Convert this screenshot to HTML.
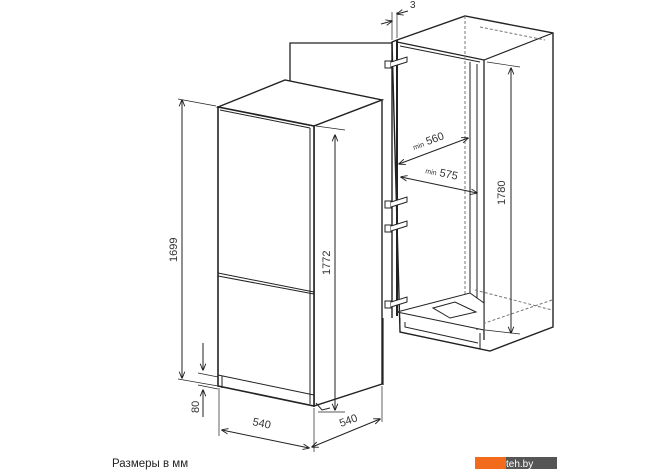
<!DOCTYPE html>
<html><head><meta charset="utf-8"><style>
html,body{margin:0;padding:0;background:#fff;width:670px;height:471px;overflow:hidden}
svg{display:block}
text{font-family:"Liberation Sans",sans-serif;fill:#333}
</style></head><body>
<svg width="670" height="471" viewBox="0 0 670 471" xmlns="http://www.w3.org/2000/svg">
<defs>
<marker id="a" viewBox="0 0 10 10" refX="9" refY="5" markerWidth="7" markerHeight="7" orient="auto-start-reverse"><path d="M0,1 L10,5 L0,9" fill="none" stroke="#222" stroke-width="1.3"/></marker>
</defs>
<g stroke="#222" fill="none" stroke-width="1">
<path d="M290,82 L290,43 L392,43" stroke-width="1.3"/>
<path d="M383,318 L383,385" stroke-width="1.2"/>
<path d="M392,42 L397,40 L465,16 L553,33 L553,327 L490,351 L400,332 Z" fill="#fff" stroke-width="1.4"/>
<path d="M397,40 L397,316" stroke-width="2"/>
<path d="M392,42 L392,318" stroke-width="1.4"/>
<path d="M397,42 L484,60 L553,33" stroke-width="1.2"/>
<path d="M400,46 L480,62" />
<path d="M484,60 L484,340" stroke-width="1.3"/>
<path d="M477,64 L477,330 M470,62 L470,300" />
<path d="M465,16 L465,300 M480,27 L545,40 M552,300 L485,323 M475,290 L552,310" stroke-dasharray="3,2" stroke="#777"/>
<path d="M397,312 L470,293 L484,303 L484,330 L397,312" fill="#fff"/>
<path d="M433,308 L455,302 L476,312 L450,318 Z" />
<path d="M400,318 L400,332 L480,349 L480,333" />
<path d="M405,322 L405,327 L478,343" />
<g fill="#fff">
<rect x="385" y="61" width="6" height="7"/><path d="M391,62 L407,57 L407,62 L391,67"/>
<rect x="385" y="201" width="6" height="7"/><path d="M391,202 L407,197 L407,202 L391,207"/>
<rect x="385" y="225" width="6" height="7"/><path d="M391,226 L407,221 L407,226 L391,231"/>
<rect x="385" y="301" width="6" height="7"/><path d="M391,302 L407,297 L407,302 L391,307"/>
</g>
<path d="M218,107 L285,80 L382,100 L314,126 Z" fill="#fff" stroke-width="1.4"/>
<path d="M314,126 L382,100 L382,384 L314,406 Z" fill="#fff" stroke-width="1.4"/>
<path d="M218,107 L314,126 L314,406 L218,386 Z" fill="#fff" stroke-width="1.6"/>
<path d="M310,128 L310,404" />
<path d="M220,110 L310,128" />
<path d="M218,273 L314,292 M218,276 L314,294" />
<path d="M218,375 L314,395" />
<path d="M222,376 L222,388 M316,403 L322,410 L330,408" />
<path d="M182,100 L182,378" marker-start="url(#a)" marker-end="url(#a)"/>
<path d="M178,99 L216,106 M178,379 L218,386" stroke-width="0.7"/>
<path d="M335,135 L335,410" marker-start="url(#a)" marker-end="url(#a)"/>
<path d="M316,126 L345,130 M318,412 L345,412" stroke-width="0.7"/>
<path d="M203,343 L203,370" marker-end="url(#a)"/>
<path d="M203,417 L203,390" marker-end="url(#a)"/>
<path d="M198,373 L218,377 M198,385 L218,389" stroke-width="0.7"/>
<path d="M219,388 L219,436 M314,408 L314,452 M382,386 L382,422" stroke-width="0.7"/>
<path d="M222,430 L309,448" marker-start="url(#a)" marker-end="url(#a)"/>
<path d="M312,447 L380,419" marker-start="url(#a)" marker-end="url(#a)"/>
<path d="M511,68 L511,333" marker-start="url(#a)" marker-end="url(#a)"/>
<path d="M487,62 L520,67 M485,330 L520,334" stroke-width="0.7"/>
<path d="M399,164 L468,138" marker-start="url(#a)" marker-end="url(#a)"/>
<path d="M401,177 L477,193" marker-start="url(#a)" marker-end="url(#a)"/>
<path d="M392,12 L392,40 M397,12 L397,38" stroke-width="0.7"/>
<path d="M381,24 L392,21" marker-end="url(#a)"/>
<path d="M408,11 L397,14" marker-end="url(#a)"/>
</g>
<text x="0" y="0" font-size="11" transform="translate(177,262) rotate(-90)">1699</text>
<text x="0" y="0" font-size="11" transform="translate(330,275) rotate(-90)">1772</text>
<text x="0" y="0" font-size="11" transform="translate(199,413) rotate(-90)">80</text>
<text x="0" y="0" font-size="11" transform="translate(252,425) rotate(12)">540</text>
<text x="0" y="0" font-size="11" transform="translate(341,427) rotate(-20)">540</text>
<text x="0" y="0" font-size="11" transform="translate(505,205) rotate(-90)">1780</text>
<text x="0" y="0" font-size="11" transform="translate(414,150) rotate(-20)"><tspan font-size="7">min</tspan> 560</text>
<text x="0" y="0" font-size="11" transform="translate(425,173) rotate(12)"><tspan font-size="7">min</tspan> 575</text>
<text x="410" y="8" font-size="10">3</text>
<text x="112" y="467" font-size="11.5" style="fill:#222">Размеры в мм</text>
<rect x="475" y="457" width="31" height="12" fill="#f26a1b"/>
<rect x="506" y="457" width="51" height="12" fill="#555"/>
<text x="506" y="467" font-size="10" style="fill:#fff">teh.by</text>
</svg>
</body></html>
